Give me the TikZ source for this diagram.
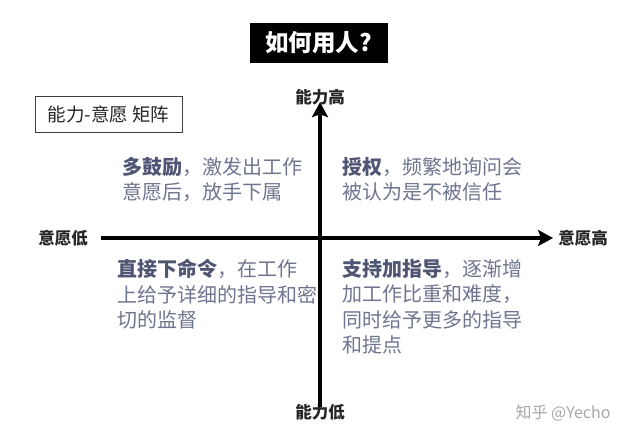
\documentclass[tikz,border=0pt]{standalone}
\usepackage{fontspec}
\setmainfont{Noto Sans CJK SC}
\usetikzlibrary{arrows.meta}
\definecolor{quad}{HTML}{70758F}
\definecolor{quadb}{HTML}{4F5573}
\definecolor{wm}{HTML}{A8A8A8}
\tikzset{
  quadtext/.style={anchor=north west, align=left, inner sep=0pt, text=quad,
    font=\fontsize{20}{25.5}\selectfont},
  axislabel/.style={inner sep=1pt, font=\fontsize{16.5}{18}\selectfont\bfseries, text=black!85},
  axisline/.style={line width=3.6pt, -{Stealth[length=15pt,width=16pt,inset=3pt]}},
}
\newcommand{\qb}[1]{\textcolor{quadb}{\textbf{#1}}}
\begin{document}
\begin{tikzpicture}[x=1pt,y=-1pt]
\useasboundingbox (0,0) rectangle (640,444);
\fill[white] (0,0) rectangle (640,444);
% title
\node[fill=black, text=white, minimum width=138pt, minimum height=40pt, inner sep=0pt,
  font=\fontsize{23.5}{25}\selectfont\bfseries] (title) at (318.5,43) {如何用人?};
% matrix label
\node[draw=black!75, line width=0.9pt, minimum width=147pt, minimum height=36pt, inner sep=0pt,
  font=\fontsize{18.5}{20}\selectfont, text=black!85] (mlabel) at (108.5,114) {能力-意愿 矩阵};
% axis labels
\node[axislabel] (chigh) at (320,97) {能力高};
\node[axislabel] (clow) at (320,412) {能力低};
\node[axislabel] (wlow) at (63,238) {意愿低};
\node[axislabel] (whigh) at (583,238) {意愿高};
% axes
\draw[axisline] ([yshift=-4pt]clow.north) -- ([yshift=4pt]chigh.south);
\draw[axisline] ([xshift=12pt]wlow.east) -- ([xshift=-4pt]whigh.west);
% quadrant texts
\node[quadtext] (tl) at (122,157) {\qb{多鼓励}，激发出工作\\意愿后，放手下属};
\node[quadtext] (tr) at (342,157) {\qb{授权}，频繁地询问会\\被认为是不被信任};
\node[quadtext] (bl) at (117,259) {\qb{直接下命令}，在工作\\上给予详细的指导和密\\切的监督};
\node[quadtext] (br) at (342,259) {\qb{支持加指导}，逐渐增\\加工作比重和难度，\\同时给予更多的指导\\和提点};
% watermark
\node[text=wm, font=\fontsize{16}{18}\selectfont, inner sep=0pt] (wmark) at (563,413) {知乎 @Yecho};
\end{tikzpicture}
\end{document}
